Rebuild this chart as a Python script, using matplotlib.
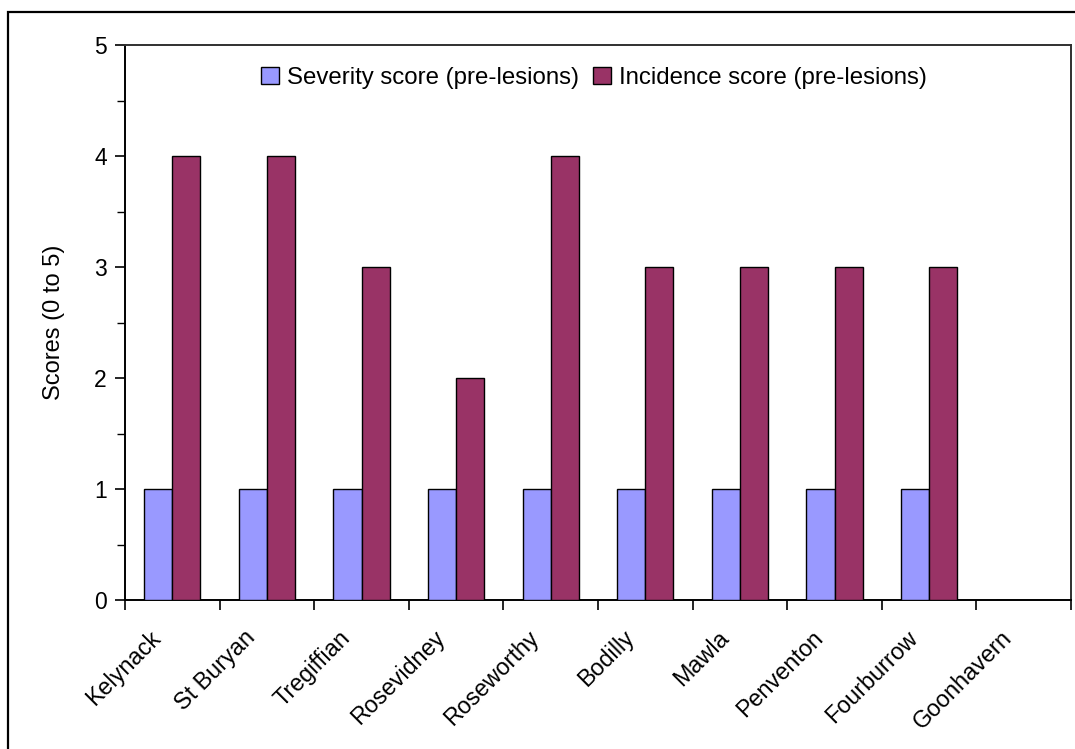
import matplotlib
matplotlib.use("Agg")
import matplotlib.pyplot as plt
from matplotlib.patches import Rectangle
from matplotlib.ticker import MultipleLocator
from matplotlib.transforms import ScaledTranslation
import numpy as np

plt.rcParams['font.family'] = ['Liberation Sans', 'DejaVu Sans']

sites = ["Kelynack", "St Buryan", "Tregiffian", "Rosevidney", "Roseworthy",
         "Bodilly", "Mawla", "Penventon", "Fourburrow", "Goonhavern"]
severity = [1, 1, 1, 1, 1, 1, 1, 1, 1, 0]
incidence = [4, 4, 3, 2, 4, 3, 3, 3, 3, 0]
series_names = ["Severity score (pre-lesions)", "Incidence score (pre-lesions)"]
y_label = "Scores (0 to 5)"

W, H = 1075, 749
fig = plt.figure(figsize=(W / 100, H / 100), dpi=100)

# outer chart frame
fig.patches.append(Rectangle((8 / W, -0.05), 1.2, 1 - 12 / H + 0.05,
                             transform=fig.transFigure, fill=False,
                             edgecolor='black', linewidth=1.6, zorder=0))

ax = fig.add_axes([125 / W, 1 - 600 / H, (1071 - 125) / W, (600 - 45) / H])

x = np.arange(len(sites))
bw = 0.296
ax.bar(x - bw / 2, severity, bw, color='#9999FF', edgecolor='black',
       linewidth=1.0, label=series_names[0], zorder=3)
ax.bar(x + bw / 2, incidence, bw, color='#993366', edgecolor='black',
       linewidth=1.0, label=series_names[1], zorder=3)

ax.set_xlim(-0.5, len(sites) - 0.5)
ax.set_ylim(0, 5)

ax.yaxis.set_major_locator(MultipleLocator(1))
ax.yaxis.set_minor_locator(MultipleLocator(0.5))
ax.tick_params(axis='y', which='major', length=7, width=1.2, labelsize=16.5, pad=6)
ax.tick_params(axis='y', which='minor', length=6, width=1.0)

ax.set_xticks(np.arange(len(sites) + 1) - 0.5, minor=False)
ax.set_xticklabels([])
ax.set_xticks(x, minor=True)
ax.set_xticklabels(sites, minor=True, rotation=45, ha='right', va='top',
                   rotation_mode='anchor', fontsize=16.8)
ax.tick_params(axis='x', which='major', length=7, width=1.2)
ax.tick_params(axis='x', which='minor', length=0, pad=19)
# nudge the slanted names so their ends sit just left of each category centre
shift = ScaledTranslation(-23 / 100, 0, fig.dpi_scale_trans)
for lbl in ax.get_xticklabels(minor=True):
    lbl.set_transform(lbl.get_transform() + shift)

for side in ['left', 'bottom']:
    ax.spines[side].set_linewidth(1.4)
    ax.spines[side].set_color('black')
for side in ['top', 'right']:
    ax.spines[side].set_linewidth(1.4)
    ax.spines[side].set_color('#303030')

ax.set_ylabel(y_label, fontsize=17, labelpad=21)

ax.legend(loc='upper center', bbox_to_anchor=(0.496, 1.0), ncol=2, frameon=False,
          fontsize=17.3, handlelength=0.72, handleheight=0.72, handletextpad=0.35,
          columnspacing=0.6, borderaxespad=0.5)

fig.savefig("out.png", dpi=100)
